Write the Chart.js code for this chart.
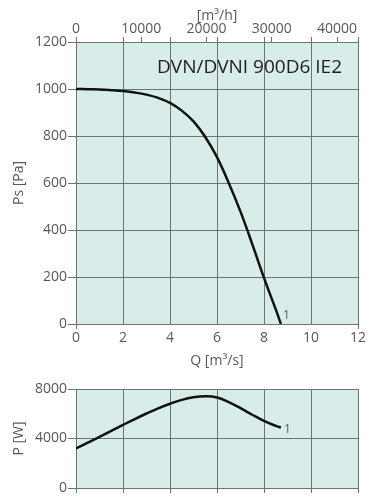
<!DOCTYPE html>
<html>
<head>
<meta charset="utf-8">
<script src="https://cdn.jsdelivr.net/npm/chart.js"></script>
<style>
  body { margin: 0; background: #fff; }
  #wrap { position: relative; width: 378px; height: 500px; }
  canvas { position: absolute; left: 0; }
</style>
</head>
<body>
<div id="wrap">
  <canvas id="pressure-chart" width="378" height="372" style="top:0"></canvas>
  <canvas id="power-chart" width="378" height="128" style="top:372px"></canvas>
</div>
<script>
// values
const flowQ    = [0, 0.5, 1, 1.5, 2, 2.5, 3, 3.5, 4, 4.5, 5, 5.5, 6, 6.5, 7, 7.5, 8, 8.5, 8.72];
const staticPs = [1000, 999, 998, 995, 991, 985, 976, 962, 941, 908, 862, 796, 710, 600, 478, 340, 196, 62, 0];
const powerW   = [3200, 3660, 4130, 4620, 5100, 5570, 6020, 6440, 6810, 7120, 7330, 7410, 7320, 6940, 6450, 5920, 5420, 5020, 4880];

const qTicks    = [0, 2, 4, 6, 8, 10, 12];
const hourTicks = [0, 10000, 20000, 30000, 40000];
const psTicks   = [0, 200, 400, 600, 800, 1000, 1200];
const pTicks    = [0, 4000, 8000];

const modelName = 'DVN/DVNI 900D6 IE2';
const curveName = '1';

const gridGray = '#6b7473';
const textGray = '#585858';
const tickFont = { family: 'Open Sans', size: 14 };

Chart.defaults.font.family = 'Open Sans';

function toPoints(xs, ys) {
  return xs.map((x, i) => ({ x: x, y: ys[i] }));
}

// plain numbers, no thousands separator
const plain = (v) => String(v);

const plotBackground = {
  id: 'plotBackground',
  beforeDraw(chart) {
    const a = chart.chartArea;
    const ctx = chart.ctx;
    ctx.save();
    ctx.fillStyle = '#d8ece9';
    ctx.fillRect(a.left, a.top, a.right - a.left, a.bottom - a.top);
    ctx.restore();
  }
};

const curveLabel = {
  id: 'curveLabel',
  afterDatasetsDraw(chart, args, opts) {
    const pts = chart.getDatasetMeta(0).data;
    const last = pts[pts.length - 1];
    const ctx = chart.ctx;
    ctx.save();
    ctx.fillStyle = textGray;
    ctx.font = '12px "Open Sans"';
    ctx.textBaseline = 'alphabetic';
    ctx.fillText(curveName, last.x + opts.dx, last.y + opts.dy);
    ctx.restore();
  }
};

const modelTitle = {
  id: 'modelTitle',
  afterDraw(chart) {
    const a = chart.chartArea;
    const ctx = chart.ctx;
    ctx.save();
    ctx.fillStyle = '#1e1e1e';
    ctx.font = '19px "Open Sans"';
    ctx.textAlign = 'right';
    ctx.fillText(modelName, a.right - 16, a.top + 31);
    ctx.restore();
  }
};

const pressureConfig = {
  type: 'line',
  data: {
    datasets: [{
      data: toPoints(flowQ, staticPs),
      borderColor: '#111',
      borderWidth: 2.5,
      pointRadius: 0,
      tension: 0.4,
      fill: false
    }]
  },
  options: {
    responsive: false,
    animation: false,
    devicePixelRatio: 1,
    layout: { padding: { left: 0, right: 20, top: 0, bottom: 0 } },
    plugins: {
      legend: { display: false },
      tooltip: { enabled: false },
      curveLabel: { dx: 2, dy: -5 }
    },
    scales: {
      x: {
        type: 'linear',
        position: 'bottom',
        min: 0,
        max: 12,
        afterBuildTicks: (s) => { s.ticks = qTicks.map(v => ({ value: v })); },
        afterFit: (s) => { s.height = 48; },
        grid: {
          color: gridGray,
          tickLength: 5,
          tickColor: (c) => (c.tick && (c.tick.value === 0 || c.tick.value === 12)) ? gridGray : 'rgba(0,0,0,0)'
        },
        border: { color: gridGray },
        ticks: { color: textGray, font: tickFont, padding: 1, maxRotation: 0, autoSkip: false, callback: plain },
        title: { display: true, text: 'Q [m³/s]', color: textGray, font: tickFont, padding: { top: 0, bottom: 3 } }
      },
      x2: {
        type: 'linear',
        position: 'top',
        min: 0,
        max: 12 * 3600,
        afterBuildTicks: (s) => {
          const vals = hourTicks.concat(qTicks.map(q => q * 3600))
            .filter((v, i, arr) => arr.indexOf(v) === i)
            .sort((a, b) => a - b);
          s.ticks = vals.map(v => ({ value: v }));
        },
        afterFit: (s) => { s.height = 42; },
        grid: { color: gridGray, drawOnChartArea: false, tickLength: 5 },
        border: { color: gridGray },
        ticks: {
          color: textGray, font: tickFont, padding: 0, maxRotation: 0, autoSkip: false,
          callback: (v) => hourTicks.includes(v) ? String(v) : ''
        },
        title: { display: true, text: '[m³/h]', color: textGray, font: tickFont, padding: { top: 8, bottom: 0 } }
      },
      y: {
        type: 'linear',
        min: 0,
        max: 1200,
        afterBuildTicks: (s) => { s.ticks = psTicks.map(v => ({ value: v })); },
        afterFit: (s) => { s.width = 76; },
        grid: { color: gridGray, tickLength: 8 },
        border: { color: gridGray },
        ticks: { color: textGray, font: tickFont, padding: 1, callback: plain },
        title: { display: true, text: 'Ps [Pa]', color: textGray, font: tickFont, padding: { top: 11, bottom: 0 } }
      }
    }
  },
  plugins: [plotBackground, curveLabel, modelTitle]
};

const powerConfig = {
  type: 'line',
  data: {
    datasets: [{
      data: toPoints(flowQ, powerW),
      borderColor: '#111',
      borderWidth: 2.5,
      pointRadius: 0,
      tension: 0.4,
      fill: false
    }]
  },
  options: {
    responsive: false,
    animation: false,
    devicePixelRatio: 1,
    layout: { padding: { left: 0, right: 20, top: 17, bottom: 0 } },
    plugins: {
      legend: { display: false },
      tooltip: { enabled: false },
      curveLabel: { dx: 3, dy: 5 }
    },
    scales: {
      x: {
        type: 'linear',
        min: 0,
        max: 12,
        afterBuildTicks: (s) => { s.ticks = qTicks.map(v => ({ value: v })); },
        afterFit: (s) => { s.height = 12; },
        grid: { color: gridGray, tickLength: 5 },
        border: { color: gridGray },
        ticks: { display: false }
      },
      y: {
        type: 'linear',
        min: 0,
        max: 8000,
        afterBuildTicks: (s) => { s.ticks = pTicks.map(v => ({ value: v })); },
        afterFit: (s) => { s.width = 76; },
        grid: { color: gridGray, tickLength: 8 },
        border: { color: gridGray },
        ticks: { color: textGray, font: tickFont, padding: 1, callback: plain },
        title: { display: true, text: 'P [W]', color: textGray, font: tickFont, padding: { top: 11, bottom: 0 } }
      }
    }
  },
  plugins: [plotBackground, curveLabel]
};

const pressureChart = new Chart(document.getElementById('pressure-chart'), pressureConfig);
const powerChart = new Chart(document.getElementById('power-chart'), powerConfig);
</script>
</body>
</html>
